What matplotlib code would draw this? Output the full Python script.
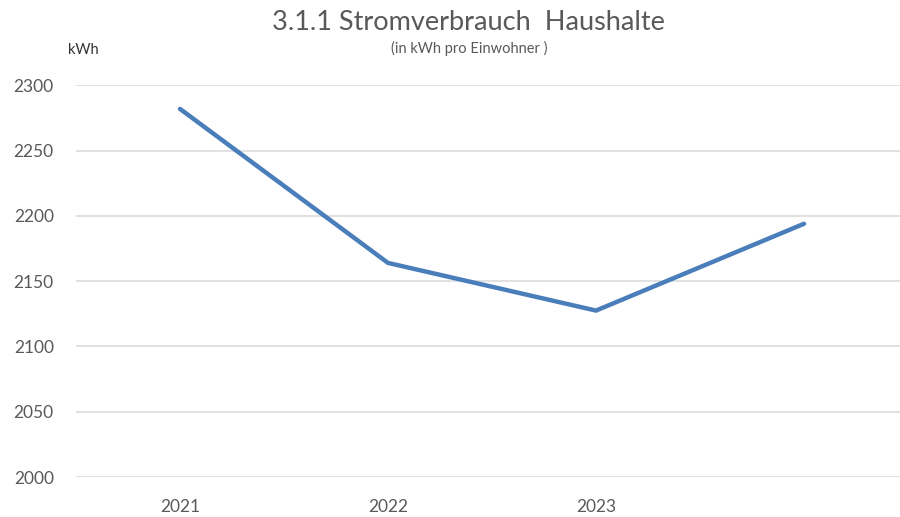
import matplotlib
matplotlib.use("Agg")
import matplotlib.pyplot as plt

# --- data ---
years = ["2021", "2022", "2023", ""]
verbrauch = [2282, 2164, 2127.5, 2194]
y_ticks = [2000, 2050, 2100, 2150, 2200, 2250, 2300]

plt.rcParams["font.family"] = ["Lato", "DejaVu Sans"]
grey = "#595959"

fig = plt.figure(figsize=(9, 5.17), dpi=100)
# plot area in pixels: x 76..908, y 85..477
W, H = 900, 517
ax = fig.add_axes([76 / W, 1 - 477 / H, (908 - 76) / W, (477 - 85.4) / H])

x = range(len(verbrauch))
ax.plot(x, verbrauch, color="#4a7ebb", linewidth=3.2, solid_capstyle="round",
        solid_joinstyle="miter", zorder=3)

ax.set_xlim(-0.5, len(verbrauch) - 0.5)
ax.set_ylim(2000, 2300)
ax.set_yticks(y_ticks)
ax.set_xticks(list(x))
ax.set_xticklabels(years)

ax.grid(axis="y", color="#d9d9d9", linewidth=1.1)
ax.set_axisbelow(True)
for s in ax.spines.values():
    s.set_visible(False)
ax.tick_params(axis="both", length=0, labelsize=12.5, labelcolor=grey)
ax.tick_params(axis="y", pad=16)
ax.tick_params(axis="x", pad=16)

fig.text(0.5 + 18 / W, 1 - 22 / H, "3.1.1 Stromverbrauch  Haushalte", ha="center", va="center",
         fontsize=19.5, color=grey)
fig.text(0.5 + 19 / W, 1 - 48 / H, "(in kWh pro Einwohner )", ha="center", va="center",
         fontsize=10.5, color=grey)
fig.text(68 / W, 1 - 50 / H, "kWh", ha="left", va="center", fontsize=10.5, color="#333333")

fig.savefig("out.png", dpi=100)
